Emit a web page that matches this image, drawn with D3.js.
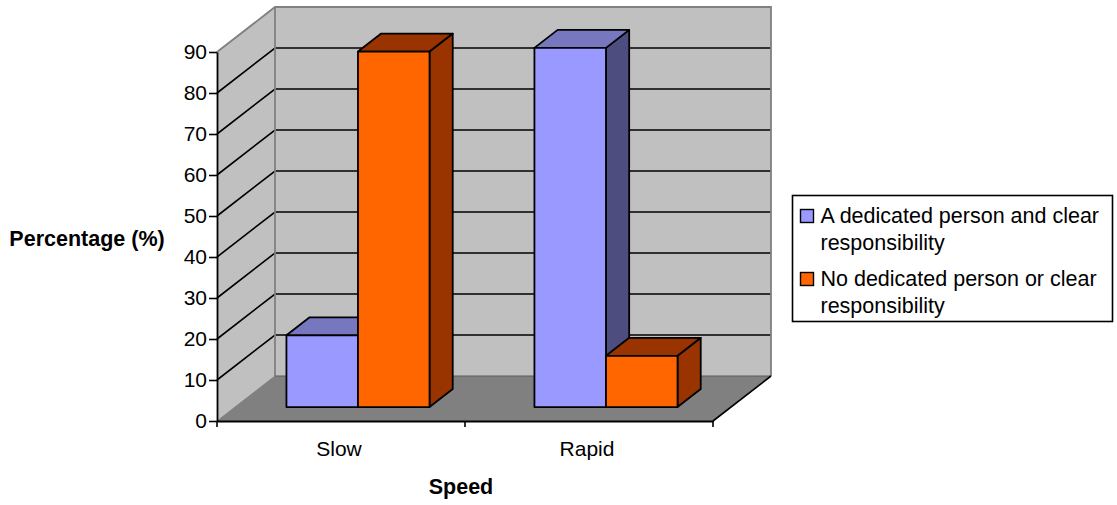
<!DOCTYPE html>
<html>
<head>
<meta charset="utf-8">
<script src="https://cdn.jsdelivr.net/npm/d3@7"></script>
<style>
  html, body { margin: 0; padding: 0; background: #fff; }
  svg { display: block; }
  text { font-family: "Liberation Sans", Arial, sans-serif; fill: #000; }
</style>
</head>
<body>
<div id="chart"></div>
<script>
const categories = ["Slow", "Rapid"];
const seriesNames = ["A dedicated person and clear responsibility", "No dedicated person or clear responsibility"];
const dedicated = [17.5, 87.6];
const noDedicated = [86.7, 12.5];
const yTicks = [0, 10, 20, 30, 40, 50, 60, 70, 80, 90];
const legendLines = [["A dedicated person and clear", "responsibility"], ["No dedicated person or clear", "responsibility"]];

const width = 1117, height = 505;
const margin = { top: 52, right: 404, bottom: 84, left: 217 };

// oblique projection: z runs 0 (front) to 1 (back wall)
const depth = { x: 58, y: -45 };
const project = (x, y, z) => [x + depth.x * z, y + depth.y * z];
// bars stand between these depths
const barZ = [0.31, 0.71];

const colors = [
  { front: "#9999ff", top: "#7777c0", side: "#4d4d80" },
  { front: "#ff6600", top: "#993300", side: "#993300" }
];

const x = d3.scaleBand()
  .domain(categories)
  .range([margin.left - 1, width - margin.right - 1])
  .paddingInner(0.423)
  .paddingOuter(0.2115);

const xTick = d3.scaleBand()
  .domain(categories)
  .range([margin.left, width - margin.right]);

const xSeries = d3.scaleBand()
  .domain([0, 1])
  .range([0, x.bandwidth()]);

const y = d3.scaleLinear()
  .domain([0, 90])
  .range([height - margin.bottom, margin.top]);

const svg = d3.select("#chart")
  .append("svg")
  .attr("width", width)
  .attr("height", height)
  .attr("viewBox", [0, 0, width, height]);

const poly = pts => "M" + pts.map(p => p.join(",")).join("L") + "Z";

const x0 = margin.left, x1 = width - margin.right;
const yMin = y(0), yMax = y(90);

// back wall, side wall and floor
svg.append("path")
  .attr("d", poly([project(x0, yMin, 1), project(x1, yMin, 1), project(x1, yMax, 1), project(x0, yMax, 1)]))
  .attr("fill", "#c0c0c0");
svg.append("path")
  .attr("d", poly([project(x0, yMin, 0), project(x0, yMin, 1), project(x0, yMax, 1), project(x0, yMax, 0)]))
  .attr("fill", "#c0c0c0");
svg.append("path")
  .attr("d", poly([project(x0, yMin, 0), project(x1, yMin, 0), project(x1, yMin, 1), project(x0, yMin, 1)]))
  .attr("fill", "#808080");

// gridlines, side wall then back wall
const gridValues = yTicks.filter(d => d > 0 && d < 90);
svg.append("g")
  .attr("stroke", "#000")
  .attr("stroke-width", 1.6)
  .attr("fill", "none")
  .selectAll("path")
  .data(gridValues)
  .join("path")
  .attr("d", d => d3.line()([project(x0, y(d), 0), project(x0, y(d), 1), project(x1, y(d), 1)]));

// wall edges
svg.append("path")
  .attr("d", d3.line()([project(x0, yMax, 0), project(x0, yMax, 1), project(x1, yMax, 1), project(x1, yMin, 1)]))
  .attr("fill", "none")
  .attr("stroke", "#808080")
  .attr("stroke-width", 1.8);
svg.append("path")
  .attr("d", d3.line()([project(x0, yMin, 1), project(x0, yMax, 1)]))
  .attr("fill", "none")
  .attr("stroke", "#808080")
  .attr("stroke-width", 1.8);
svg.append("path")
  .attr("d", d3.line()([project(x0, yMin, 1), project(x1, yMin, 1)]))
  .attr("fill", "none")
  .attr("stroke", "#5a5a5a")
  .attr("stroke-width", 1);
svg.append("path")
  .attr("d", d3.line()([project(x0, yMin, 0), project(x0, yMin, 1)]))
  .attr("fill", "none")
  .attr("stroke", "#808080")
  .attr("stroke-width", 1);
svg.append("path")
  .attr("d", d3.line()([project(x1, yMin, 0), project(x1, yMin, 1)]))
  .attr("fill", "none")
  .attr("stroke", "#000")
  .attr("stroke-width", 1.6);

// bars, as three faces each
const bars = [];
categories.forEach((c, i) => {
  [dedicated[i], noDedicated[i]].forEach((v, s) => {
    bars.push({ category: c, series: s, value: v });
  });
});

const barG = svg.append("g")
  .attr("stroke", "#000")
  .attr("stroke-width", 1.8)
  .attr("stroke-linejoin", "round")
  .selectAll("g")
  .data(bars)
  .join("g");

const faces = d => {
  const l = x(d.category) + xSeries(d.series);
  const r = l + xSeries.bandwidth();
  const t = y(d.value), b = y(0);
  const [zf, zb] = barZ;
  return {
    side: poly([project(r, b, zf), project(r, b, zb), project(r, t, zb), project(r, t, zf)]),
    top: poly([project(l, t, zf), project(r, t, zf), project(r, t, zb), project(l, t, zb)]),
    front: poly([project(l, b, zf), project(r, b, zf), project(r, t, zf), project(l, t, zf)])
  };
};

barG.append("path").attr("d", d => faces(d).side).attr("fill", d => colors[d.series].side);
barG.append("path").attr("d", d => faces(d).top).attr("fill", d => colors[d.series].top);
barG.append("path").attr("d", d => faces(d).front).attr("fill", d => colors[d.series].front);

// axes
const yAxis = svg.append("g")
  .attr("transform", `translate(${margin.left},0)`)
  .call(d3.axisLeft(y).tickValues(yTicks).tickSize(8).tickPadding(2).tickSizeOuter(0));

const xAxis = svg.append("g")
  .attr("transform", `translate(0,${height - margin.bottom})`)
  .call(d3.axisBottom(xTick).tickSize(0).tickPadding(20));

xAxis.selectAll(".tickmark")
  .data([x0, xTick("Rapid"), x1])
  .join("line")
  .attr("class", "tickmark")
  .attr("x1", d => d).attr("x2", d => d)
  .attr("y1", 0).attr("y2", 6)
  .attr("stroke", "#000")
  .attr("stroke-width", 1.6);

for (const g of [yAxis, xAxis]) {
  g.attr("font-family", null);
  g.select(".domain").attr("stroke-width", 1.8);
  g.selectAll(".tick line").attr("stroke-width", 1.6);
  g.selectAll("text").attr("font-size", 21);
}
xAxis.selectAll(".tick text").attr("dx", -2);

// axis titles
svg.append("text")
  .attr("x", 87).attr("y", 246)
  .attr("text-anchor", "middle")
  .attr("font-size", 21.5)
  .attr("font-weight", "bold")
  .text("Percentage (%)");

svg.append("text")
  .attr("x", 461).attr("y", 494)
  .attr("text-anchor", "middle")
  .attr("font-size", 21.5)
  .attr("font-weight", "bold")
  .text("Speed");

// legend
const legend = svg.append("g").attr("transform", "translate(792.5,195.5)");

legend.append("rect")
  .attr("width", 320).attr("height", 126)
  .attr("fill", "#fff")
  .attr("stroke", "#000")
  .attr("stroke-width", 1.6);

const legendRow = d3.scaleBand()
  .domain(d3.range(seriesNames.length))
  .range([0, 126]);

const rows = legend.selectAll(".row")
  .data(legendLines)
  .join("g")
  .attr("class", "row")
  .attr("transform", (d, i) => `translate(0,${legendRow(i)})`);

rows.append("rect")
  .attr("x", 8).attr("y", 14)
  .attr("width", 13).attr("height", 13)
  .attr("fill", (d, i) => colors[i].front)
  .attr("stroke", "#000")
  .attr("stroke-width", 1.4);

rows.selectAll("text")
  .data(d => d)
  .join("text")
  .attr("x", 28)
  .attr("y", (d, i) => 27 + i * 27)
  .attr("font-size", 21.5)
  .text(d => d);
</script>
</body>
</html>
